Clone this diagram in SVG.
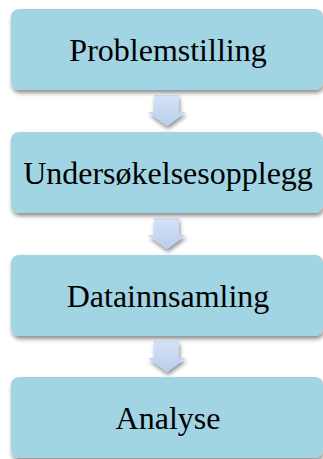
<svg xmlns="http://www.w3.org/2000/svg" width="323" height="459" viewBox="0 0 323 459">
  <defs>
    <filter id="shadow" x="-10%" y="-20%" width="125%" height="150%">
      <feGaussianBlur in="SourceAlpha" stdDeviation="2"/>
      <feOffset dx="1" dy="3" result="b"/>
      <feComponentTransfer><feFuncA type="linear" slope="0.45"/></feComponentTransfer>
      <feMerge><feMergeNode/><feMergeNode in="SourceGraphic"/></feMerge>
    </filter>
    <linearGradient id="arrowFill" x1="0" y1="0" x2="0" y2="1">
      <stop offset="0" stop-color="#d6e3f8"/>
      <stop offset="1" stop-color="#b9cdec"/>
    </linearGradient>
    <path id="arrowShape" d="M-13,0 H12 V17 H19 L0,31 L-19,17 H-13 Z"/>
  </defs>
  <style>
    .box { fill: #a2d5e3; filter: url(#shadow); }
    .label { font-family: "Liberation Serif", "Times New Roman", serif; font-size: 32px; fill: #000; text-anchor: middle; }
    .arrow { fill: url(#arrowFill); filter: url(#shadow); }
  </style>
  <rect width="323" height="459" fill="#ffffff"/>

  <g id="connectors">
    <use href="#arrowShape" class="arrow" transform="translate(167,95)"/>
    <use href="#arrowShape" class="arrow" transform="translate(167,218)"/>
    <use href="#arrowShape" class="arrow" transform="translate(167,341)"/>
  </g>

  <g id="node-problemstilling">
    <rect class="box" x="11" y="9" width="312" height="81" rx="8"/>
    <text class="label" x="168" y="61">Problemstilling</text>
  </g>
  <g id="node-undersokelsesopplegg">
    <rect class="box" x="11" y="132" width="312" height="81" rx="8"/>
    <text class="label" x="168" y="184">Undersøkelsesopplegg</text>
  </g>
  <g id="node-datainnsamling">
    <rect class="box" x="11" y="255" width="312" height="81" rx="8"/>
    <text class="label" x="168" y="307">Datainnsamling</text>
  </g>
  <g id="node-analyse">
    <rect class="box" x="11" y="377" width="312" height="81" rx="8"/>
    <text class="label" x="168" y="429">Analyse</text>
  </g>
</svg>
